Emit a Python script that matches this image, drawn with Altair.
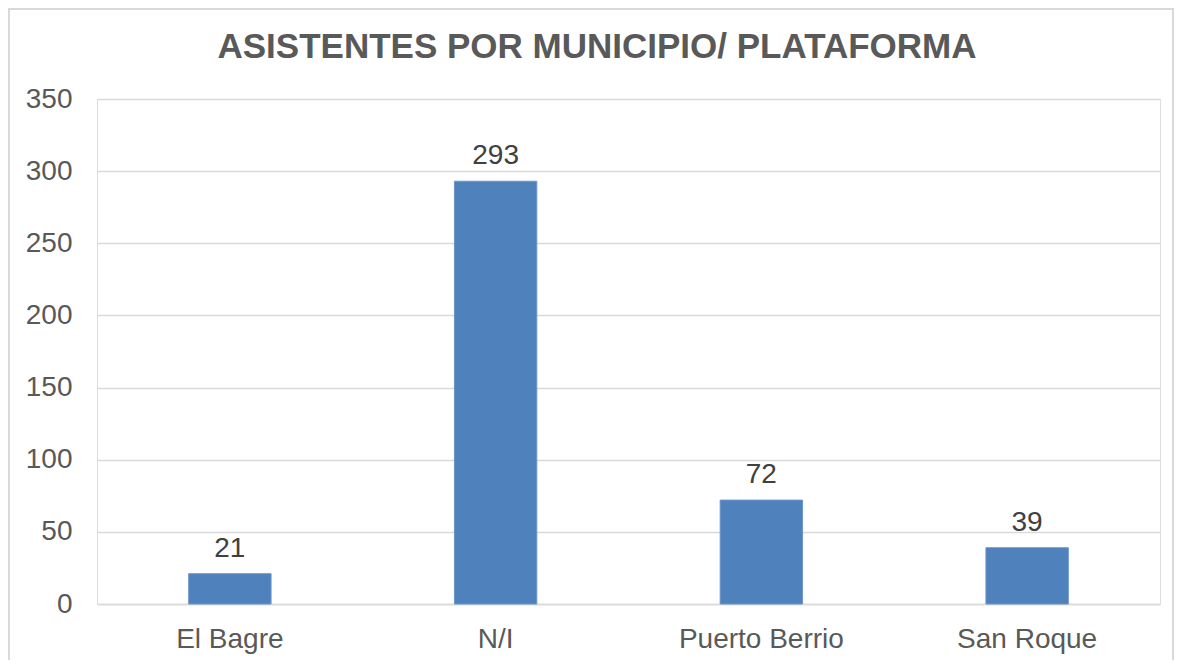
import altair as alt
import pandas as pd

categories = ["El Bagre", "N/I", "Puerto Berrio", "San Roque"]
values = [21, 293, 72, 39]
title_text = "ASISTENTES POR MUNICIPIO/ PLATAFORMA"

df = pd.DataFrame({"cat": categories, "val": values})

FONT = "Liberation Sans"
W, H = 1063, 505

base = alt.Chart(df).encode(
    x=alt.X("cat:N", sort=categories,
            scale=alt.Scale(paddingInner=0.69, paddingOuter=0.345),
            axis=alt.Axis(title=None, labelAngle=0, labelFontSize=28, labelColor="#595959",
                          labelFont=FONT, labelPadding=21, ticks=False,
                          domainColor="#D9D9D9", domainWidth=1.3)),
    y=alt.Y("val:Q", scale=alt.Scale(domain=[0, 350], nice=False),
            axis=alt.Axis(title=None, values=[0, 50, 100, 150, 200, 250, 300, 350],
                          labelFontSize=28, labelColor="#595959", labelFont=FONT,
                          labelPadding=25, ticks=False, domain=False,
                          gridColor="#D9D9D9", gridWidth=1.3)),
)

bars = base.mark_bar(color="#4F81BD", stroke="#6A95C8", strokeWidth=1)
labels = base.mark_text(dy=-17, baseline="alphabetic", fontSize=28, color="#404040",
                        font=FONT).encode(text="val:Q")

title = alt.Chart(pd.DataFrame({"t": [title_text]})).mark_text(
    fontSize=35, font=FONT, fontWeight="bold", color="#595959",
    align="center", baseline="alphabetic"
).encode(x=alt.value(500), y=alt.value(-41), text="t:N")

border = alt.Chart(df).mark_rect(fill=None, stroke="#D9D9D9", strokeWidth=1.5).encode(
    x=alt.value(-88), x2=alt.value(W + 13), y=alt.value(-90), y2=alt.value(H + 80)
)

chart = (border + bars + labels + title).properties(
    width=W, height=H,
    autosize=alt.AutoSizeParams(type="none"),
    padding={"left": 89, "top": 91, "right": 14, "bottom": 56},
).configure_view(stroke=None).configure(background="white")

chart.save("out.html", embed_options={"renderer": "svg", "actions": False})
